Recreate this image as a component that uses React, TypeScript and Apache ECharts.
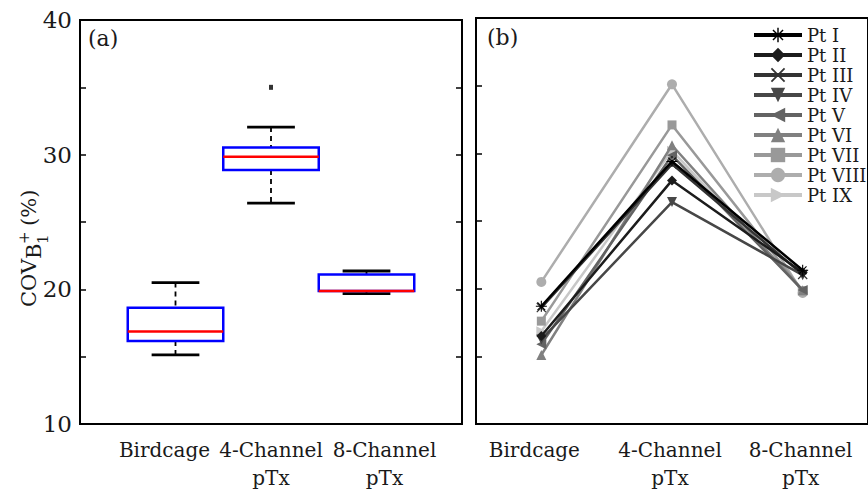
import React, { useEffect, useRef } from 'react';
import * as echarts from 'echarts';

// ---- data ----
const categories = ['Birdcage', '4-Channel\npTx', '8-Channel\npTx'];
const boxMin = [15.14, 26.4, 19.68];
const boxQ1 = [16.17, 28.86, 19.88];
const boxMedian = [16.86, 29.85, 19.88];
const boxQ3 = [18.64, 30.54, 21.11];
const boxMax = [20.5, 32.05, 21.36];
const outlierCategory = [2];
const outlierValue = [35.0];

const patients = ['Pt I', 'Pt II', 'Pt III', 'Pt IV', 'Pt V', 'Pt VI', 'Pt VII', 'Pt VIII', 'Pt IX'];
const ptBirdcage = [18.7, 16.5, 18.6, 16.25, 15.9, 15.1, 17.6, 20.5, 16.86];
const pt4Channel = [29.4, 28.0, 29.2, 26.4, 29.85, 30.6, 32.1, 35.1, 30.2];
const pt8Channel = [21.36, 21.2, 21.05, 21.0, 19.9, 19.88, 19.85, 19.68, 19.88];
const ptColors = ['#000000', '#1c1c1c', '#333333', '#474747', '#636363', '#808080', '#999999', '#adadad', '#c8c8c8'];

const yMin = 10;
const yMax = 40;
const yStep = 5;
const yLabelStep = 10;

const SERIF = '"DejaVu Serif", "Liberation Serif", serif';

const asteriskPath =
  'path://M-1,-10 L1,-10 L1,10 L-1,10 Z M-10,-1 L10,-1 L10,1 L-10,1 Z M-6.3,-7.7 L7.7,6.3 L6.3,7.7 L-7.7,-6.3 Z M-7.7,6.3 L6.3,-7.7 L7.7,-6.3 L-6.3,7.7 Z';
const crossPath =
  'path://M-6.6,-8 L8,6.6 L6.6,8 L-8,-6.6 Z M-8,6.6 L6.6,-8 L8,-6.6 L-6.6,8 Z';
const downTri = 'path://M0,0 L2,0 L1,1.8 Z';
const leftTri = 'path://M0,1 L1.8,0 L1.8,2 Z';
const rightTri = 'path://M0,0 L1.8,1 L0,2 Z';
const ptSymbols = [asteriskPath, 'diamond', crossPath, downTri, leftTri, 'triangle', 'rect', 'circle', rightTri];
const ptSymbolSizes = [11, 10, 10, 10, 10, 10, 9, 10, 10];

export default function App() {
  const ref = useRef<HTMLDivElement>(null);

  useEffect(() => {
    if (!ref.current) return;
    const chart = echarts.init(ref.current, null, { renderer: 'svg' });

    const boxData = categories.map((_, i) => [i + 1, boxMin[i], boxQ1[i], boxMedian[i], boxQ3[i], boxMax[i]]);
    const outlierData = outlierCategory.map((c, i) => [c, outlierValue[i]]);

    const leftLabelShift: Record<number, string> = { 1: 'b', 2: 'c', 3: 'd' };
    const txt = (extra: any) => ({
      fill: '#1a1a1a',
      textAlign: 'left',
      textVerticalAlign: 'middle',
      align: 'left',
      verticalAlign: 'middle',
      ...extra,
    });

    const option: any = {
      animation: false,
      backgroundColor: '#ffffff',
      grid: [
        { left: 80, top: 20, width: 382, height: 405, show: true, borderColor: '#000', borderWidth: 2, backgroundColor: 'transparent' },
        { left: 476, top: 18, width: 396, height: 407, show: true, borderColor: '#000', borderWidth: 2, backgroundColor: 'transparent' },
      ],
      xAxis: [
        {
          type: 'value',
          gridIndex: 0,
          min: 0,
          max: 4,
          interval: 1,
          splitLine: { show: false },
          axisTick: { show: false },
          axisLine: { show: true, lineStyle: { color: '#000', width: 2 } },
          axisLabel: {
            margin: 12,
            color: '#1a1a1a',
            fontFamily: SERIF,
            fontSize: 20,
            lineHeight: 28,
            formatter: (v: number) => {
              const k = Math.round(v);
              if (k < 1 || k > 3) return '';
              const key = leftLabelShift[k];
              return categories[k - 1]
                .split('\n')
                .map((s) => `{${key}|${s}}`)
                .join('\n');
            },
            rich: {
              b: { fontFamily: SERIF, fontSize: 20, lineHeight: 28, color: '#1a1a1a', padding: [0, 22, 0, 0] },
              c: { fontFamily: SERIF, fontSize: 20, lineHeight: 28, color: '#1a1a1a', padding: [0, 0, 0, 0] },
              d: { fontFamily: SERIF, fontSize: 20, lineHeight: 28, color: '#1a1a1a', padding: [0, 0, 0, 36] },
            },
          },
        },
        {
          type: 'category',
          gridIndex: 1,
          data: categories,
          boundaryGap: true,
          axisTick: { show: false },
          axisLine: { show: true, lineStyle: { color: '#000', width: 2 } },
          axisLabel: {
            interval: 0,
            hideOverlap: false,
            margin: 12,
            color: '#1a1a1a',
            fontFamily: SERIF,
            fontSize: 20,
            lineHeight: 28,
            formatter: (v: string, idx: number) =>
              v
                .split('\n')
                .map((s) => `{${idx === 0 ? 'e' : 'f'}|${s}}`)
                .join('\n'),
            rich: {
              e: { fontFamily: SERIF, fontSize: 20, lineHeight: 28, color: '#1a1a1a', padding: [0, 14, 0, 0] },
              f: { fontFamily: SERIF, fontSize: 20, lineHeight: 28, color: '#1a1a1a', padding: [0, 4, 0, 0] },
            },
          },
        },
      ],
      yAxis: [
        {
          type: 'value',
          gridIndex: 0,
          min: yMin,
          max: yMax,
          interval: yStep,
          position: 'left',
          splitLine: { show: false },
          axisLine: { show: true, lineStyle: { color: '#000', width: 2 } },
          axisTick: { show: true, inside: true, length: 6, lineStyle: { color: '#000', width: 1.5 } },
          axisLabel: {
            margin: 8,
            color: '#1a1a1a',
            fontFamily: SERIF,
            fontSize: 23,
            formatter: (v: number) => (v % yLabelStep === 0 ? String(v) : ''),
          },
        },
        {
          type: 'value',
          gridIndex: 0,
          min: yMin,
          max: yMax,
          interval: yStep,
          position: 'right',
          splitLine: { show: false },
          axisLine: { show: true, lineStyle: { color: '#000', width: 2 } },
          axisTick: { show: true, inside: true, length: 6, lineStyle: { color: '#000', width: 1.5 } },
          axisLabel: { show: false },
        },
        {
          type: 'value',
          gridIndex: 1,
          min: yMin,
          max: yMax,
          interval: yStep,
          position: 'left',
          splitLine: { show: false },
          axisLine: { show: true, lineStyle: { color: '#000', width: 2 } },
          axisTick: { show: true, inside: true, length: 6, lineStyle: { color: '#000', width: 1.5 } },
          axisLabel: { show: false },
        },
      ],
      legend: {
        orient: 'vertical',
        left: 752,
        top: 26,
        padding: 0,
        itemWidth: 48,
        itemHeight: 18,
        itemGap: 2,
        selectedMode: false,
        data: patients,
        lineStyle: { width: 4 },
        textStyle: { fontFamily: SERIF, fontSize: 18, color: '#1a1a1a', lineHeight: 18 },
      },
      graphic: [
        {
          type: 'text',
          left: 88,
          top: 27,
          style: { text: '(a)', font: `22px ${SERIF}`, fill: '#1a1a1a' },
        },
        {
          type: 'text',
          left: 487,
          top: 26,
          style: { text: '(b)', font: `22px ${SERIF}`, fill: '#1a1a1a' },
        },
        {
          type: 'group',
          x: 29,
          y: 307,
          rotation: Math.PI / 2,
          children: [
            { type: 'text', x: 0, y: 0, style: txt({ text: 'COV', font: `21px ${SERIF}` }) },
            { type: 'text', x: 48, y: 5, style: txt({ text: 'B', font: `21px ${SERIF}` }) },
            { type: 'text', x: 63, y: -5, style: txt({ text: '+', font: `15px ${SERIF}` }) },
            { type: 'text', x: 63, y: 14, style: txt({ text: '1', font: `15px ${SERIF}` }) },
            { type: 'text', x: 81, y: 0, style: txt({ text: '(%)', font: `21px ${SERIF}` }) },
          ],
        },
      ],
      series: [
        {
          type: 'custom',
          xAxisIndex: 0,
          yAxisIndex: 0,
          data: boxData,
          encode: { x: 0, y: [1, 2, 3, 4, 5] },
          renderItem: (params: any, api: any) => {
            const x = api.value(0);
            const vMin = api.value(1);
            const q1 = api.value(2);
            const med = api.value(3);
            const q3 = api.value(4);
            const vMax = api.value(5);
            const unit = api.size([1, 0])[0];
            const half = unit / 2;
            const cap = unit / 4;
            const pMin = api.coord([x, vMin]);
            const pQ1 = api.coord([x, q1]);
            const pMed = api.coord([x, med]);
            const pQ3 = api.coord([x, q3]);
            const pMax = api.coord([x, vMax]);
            const cx = pMed[0];
            return {
              type: 'group',
              children: [
                { type: 'line', shape: { x1: cx, y1: pMax[1], x2: cx, y2: pQ3[1] }, style: { stroke: '#000', lineWidth: 1.8, lineDash: [5, 4] } },
                { type: 'line', shape: { x1: cx, y1: pQ1[1], x2: cx, y2: pMin[1] }, style: { stroke: '#000', lineWidth: 1.8, lineDash: [5, 4] } },
                { type: 'line', shape: { x1: cx - cap, y1: pMax[1], x2: cx + cap, y2: pMax[1] }, style: { stroke: '#000', lineWidth: 2.8 } },
                { type: 'line', shape: { x1: cx - cap, y1: pMin[1], x2: cx + cap, y2: pMin[1] }, style: { stroke: '#000', lineWidth: 2.8 } },
                { type: 'rect', shape: { x: cx - half, y: pQ3[1], width: unit, height: pQ1[1] - pQ3[1] }, style: { fill: 'none', stroke: '#0000ff', lineWidth: 2.5 } },
                { type: 'line', shape: { x1: cx - half, y1: pMed[1], x2: cx + half, y2: pMed[1] }, style: { stroke: '#ff0000', lineWidth: 2.5 } },
              ],
            };
          },
          z: 3,
        },
        {
          type: 'scatter',
          xAxisIndex: 0,
          yAxisIndex: 0,
          data: outlierData,
          symbol: 'rect',
          symbolSize: [4, 5],
          itemStyle: { color: '#000' },
          z: 4,
        },
        ...patients.map((name, i) => ({
          name,
          type: 'line',
          xAxisIndex: 1,
          yAxisIndex: 2,
          data: [ptBirdcage[i], pt4Channel[i], pt8Channel[i]],
          symbol: ptSymbols[i],
          symbolSize: ptSymbolSizes[i],
          showAllSymbol: true,
          color: ptColors[i],
          lineStyle: { color: ptColors[i], width: 2.5 },
          itemStyle: { color: ptColors[i] },
          z: 3 + (patients.length - i) * 0.01,
        })),
      ],
    };

    chart.setOption(option);
    return () => chart.dispose();
  }, []);

  return (
    <div
      ref={ref}
      style={{ position: 'fixed', left: 0, top: 0, width: 868, height: 492, background: '#fff' }}
    />
  );
}
